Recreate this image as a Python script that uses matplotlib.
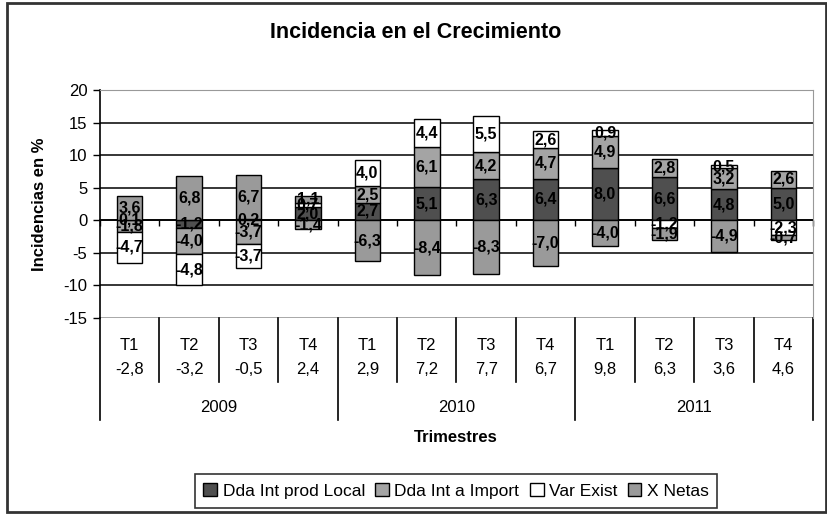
import numpy as np
import matplotlib
matplotlib.use("Agg")
import matplotlib.pyplot as plt
from matplotlib.patches import Rectangle, Patch
from matplotlib.lines import Line2D
import matplotlib.transforms as mtransforms

plt.rcParams['font.family'] = ['Liberation Sans', 'DejaVu Sans']

quarters = ["T1", "T2", "T3", "T4"] * 3
years = ["2009", "2010", "2011"]
totals = [-2.8, -3.2, -0.5, 2.4, 2.9, 7.2, 7.7, 6.7, 9.8, 6.3, 3.6, 4.6]

series_names = ["Dda Int prod Local", "Dda Int a Import", "Var Exist", "X Netas"]
local = [0.1, -1.2, 0.2, 2.0, 2.7, 5.1, 6.3, 6.4, 8.0, 6.6, 4.8, 5.0]
imports = [-1.8, -4.0, -3.7, -1.4, 2.5, 6.1, 4.2, 4.7, 4.9, 2.8, 3.2, 2.6]
var_exist = [-4.7, -4.8, -3.7, 0.7, 4.0, 4.4, 5.5, 2.6, 0.9, -1.2, 0.5, -2.3]
x_netas = [3.6, 6.8, 6.7, 1.1, -6.3, -8.4, -8.3, -7.0, -4.0, -1.9, -4.9, -0.7]
colors = ["#4f4f4f", "#a4a4a4", "#ffffff", "#9a9a9a"]

yticks = [-15, -10, -5, 0, 5, 10, 15, 20]

W, H = 828, 514
fig = plt.figure(figsize=(W / 100, H / 100), dpi=100)
ax = fig.add_axes([100 / W, 1 - 318 / H, (813 - 100) / W, (318 - 90) / H])

n = len(quarters)
x = np.arange(n)
data = [local, imports, var_exist, x_netas]
pos_base = np.zeros(n)
neg_base = np.zeros(n)
bw = 0.43
for vals, col in zip(data, colors):
    v = np.array(vals)
    bottom = np.where(v >= 0, pos_base, neg_base)
    ax.bar(x, v, bw, bottom=bottom, color=col, edgecolor="black", linewidth=1, zorder=3)
    for xi, vi, bi in zip(x, v, bottom):
        ax.text(xi, bi + vi / 2, f"{vi:.1f}".replace(".", ","), ha="center", va="center",
                fontsize=11.5, fontweight="bold", color="black", zorder=4)
    pos_base = pos_base + np.where(v >= 0, v, 0)
    neg_base = neg_base + np.where(v < 0, v, 0)

ax.set_xlim(-0.5, n - 0.5)
ax.set_ylim(yticks[0], yticks[-1])
ax.set_yticks(yticks)
ax.set_yticklabels([str(t) for t in yticks], fontsize=12)
ax.tick_params(axis="y", direction="out", length=5, width=1, pad=4)

for t in yticks[1:-1]:
    ax.axhline(t, color="black", lw=1.1, zorder=1)

# spines
ax.spines["left"].set_color("black")
ax.spines["left"].set_linewidth(1.2)
ax.spines["right"].set_color("#999999")
ax.spines["top"].set_color("#999999")
ax.spines["bottom"].set_position(("data", 0))
ax.spines["bottom"].set_color("black")
ax.spines["bottom"].set_linewidth(1.2)
ax.spines["bottom"].set_zorder(2)
ax.set_xticks(np.arange(n + 1) - 0.5)
ax.set_xticklabels([""] * (n + 1))
ax.tick_params(axis="x", direction="out", length=4, width=1)
ax.axhline(yticks[0], color="#999999", lw=1.2, zorder=2)

# multi-level category axis
trans = mtransforms.blended_transform_factory(ax.transData, fig.transFigure)
def fy(p):
    return 1 - p / H
for i in range(n):
    ax.text(x[i], fy(345), quarters[i], transform=trans, ha="center", va="center", fontsize=12)
    ax.text(x[i], fy(370), f"{totals[i]:.1f}".replace(".", ","), transform=trans,
            ha="center", va="center", fontsize=12)
for i in range(1, n):
    if i % 4 != 0:
        ax.add_line(Line2D([i - 0.5, i - 0.5], [fy(318), fy(382)], transform=trans,
                           color="black", lw=1.2, clip_on=False))
for j, yr in enumerate(years):
    ax.text(4 * j + 1.5, fy(407), yr, transform=trans, ha="center", va="center", fontsize=12)
for j in range(len(years) + 1):
    ax.add_line(Line2D([4 * j - 0.5, 4 * j - 0.5], [fy(318), fy(420)], transform=trans,
                       color="black", lw=1.2, clip_on=False))

fig.text(456 / W, fy(438), "Trimestres", ha="center", va="center", fontsize=12, fontweight="bold")
fig.text(40 / W, fy(204), "Incidencias en %", ha="center", va="center", rotation=90,
         fontsize=12, fontweight="bold")
fig.text(416 / W, fy(32), "Incidencia en el Crecimiento", ha="center", va="center",
         fontsize=15.5, fontweight="bold")

handles = [Patch(facecolor=c, edgecolor="black", linewidth=1) for c in colors]
leg = fig.legend(handles, series_names, loc="center", bbox_to_anchor=(456 / W, fy(491)),
                 ncol=4, frameon=True, fancybox=False, edgecolor="black", fontsize=12.5,
                 handlelength=0.8, handleheight=0.8, handletextpad=0.3, columnspacing=0.6,
                 borderpad=0.5)
leg.get_frame().set_linewidth(1.2)

fig.add_artist(Rectangle((7 / W, 1 - 512 / H), 819 / W, 509 / H, transform=fig.transFigure,
                         fill=False, edgecolor="#333333", lw=2))

fig.savefig("out.png", dpi=100)
